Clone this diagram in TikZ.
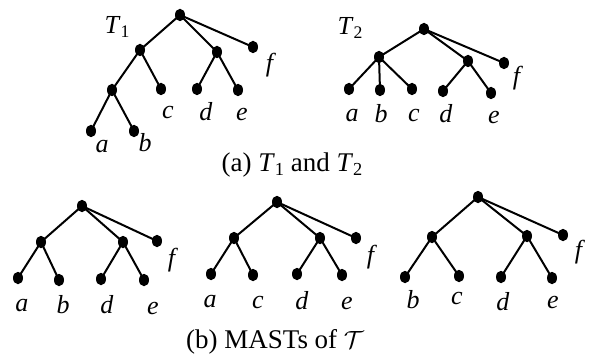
\documentclass[tikz,border=0pt]{standalone}
\usepackage{fontspec}
\usepackage{graphicx}
\setmainfont{Liberation Serif}
\usetikzlibrary{shapes.geometric}
\newcommand{\lf}[1]{\textit{#1}}
\newcommand{\tsub}[2]{\textit{#1}\raisebox{-0.3ex}{\scalebox{0.68}{#2}}}
\tikzset{
  dot/.style={ellipse,fill=black,inner sep=0pt,minimum width=10pt,minimum height=12.5pt},
  lbl/.style={inner sep=0pt,font=\fontsize{26}{28}\selectfont},
  captxt/.style={inner sep=0pt,font=\fontsize{27}{29}\selectfont},
  edge/.style={line width=2pt}
}
\begin{document}
\begin{tikzpicture}[x=1pt,y=-1pt]
\useasboundingbox (0,0) rectangle (591,358);
% ---------- T1 ----------
\node[dot] (A) at (180,15) {};
\node[dot] (Al) at (140,50) {};
\node[dot] (Ar) at (217,52) {};
\node[dot] (Af) at (253,47) {};
\node[dot] (All) at (112,90) {};
\node[dot] (Ac) at (161,89) {};
\node[dot] (Ad) at (197,89) {};
\node[dot] (Ae) at (238,90) {};
\node[dot] (Aa) at (91,131) {};
\node[dot] (Ab) at (134,131) {};
\foreach \u/\v in {A/Al,A/Ar,A/Af,Al/All,Al/Ac,Ar/Ad,Ar/Ae,All/Aa,All/Ab}
  \draw[edge] (\u.center) -- (\v.center);
\node[lbl] (AT) at (117,27) {\tsub{T}{1}};
\node[lbl] (Alf) at (271,65) {\lf{f}};
\node[lbl] (Alc) at (168,113) {\lf{c}};
\node[lbl] (Ald) at (206,112) {\lf{d}};
\node[lbl] (Ale) at (242,115) {\lf{e}};
\node[lbl] (Ala) at (102,147) {\lf{a}};
\node[lbl] (Alb) at (145,143) {\lf{b}};
% ---------- T2 ----------
\node[dot] (B) at (424,29) {};
\node[dot] (Bl) at (379,57) {};
\node[dot] (Br) at (468,61) {};
\node[dot] (Bf) at (504,63) {};
\node[dot] (Ba) at (349,89) {};
\node[dot] (Bb) at (380,90) {};
\node[dot] (Bc) at (412,89) {};
\node[dot] (Bd) at (443,91) {};
\node[dot] (Be) at (491,93) {};
\foreach \u/\v in {B/Bl,B/Br,B/Bf,Bl/Ba,Bl/Bb,Bl/Bc,Br/Bd,Br/Be}
  \draw[edge] (\u.center) -- (\v.center);
\node[lbl] (BT) at (350,28) {\tsub{T}{2}};
\node[lbl] (Blf) at (518,78) {\lf{f}};
\node[lbl] (Bla) at (352,116) {\lf{a}};
\node[lbl] (Blb) at (381,114) {\lf{b}};
\node[lbl] (Blc) at (414,116) {\lf{c}};
\node[lbl] (Bld) at (446,114) {\lf{d}};
\node[lbl] (Ble) at (494,118) {\lf{e}};
\node[captxt] (capA) at (292,165) {(a) \tsub{T}{1} and \tsub{T}{2}};
% ---------- M1 ----------
\node[dot] (C) at (82,206) {};
\node[dot] (Cl) at (41,242) {};
\node[dot] (Cr) at (123,242) {};
\node[dot] (Cf) at (157,241) {};
\node[dot] (Ca) at (18,278) {};
\node[dot] (Cb) at (59,280) {};
\node[dot] (Cd) at (101,279) {};
\node[dot] (Ce) at (144,280) {};
\foreach \u/\v in {C/Cl,C/Cr,C/Cf,Cl/Ca,Cl/Cb,Cr/Cd,Cr/Ce}
  \draw[edge] (\u.center) -- (\v.center);
\node[lbl] (Clf) at (173,260) {\lf{f}};
\node[lbl] (Cla) at (22,306) {\lf{a}};
\node[lbl] (Clb) at (63,305) {\lf{b}};
\node[lbl] (Cld) at (107,305) {\lf{d}};
\node[lbl] (Cle) at (153,308) {\lf{e}};
% ---------- M2 ----------
\node[dot] (D) at (277,202) {};
\node[dot] (Dl) at (234,238) {};
\node[dot] (Dr) at (320,238) {};
\node[dot] (Df) at (356,238) {};
\node[dot] (Da) at (211,274) {};
\node[dot] (Dc) at (253,275) {};
\node[dot] (Dd) at (297,274) {};
\node[dot] (De) at (342,275) {};
\foreach \u/\v in {D/Dl,D/Dr,D/Df,Dl/Da,Dl/Dc,Dr/Dd,Dr/De}
  \draw[edge] (\u.center) -- (\v.center);
\node[lbl] (Dlf) at (372,257) {\lf{f}};
\node[lbl] (Dla) at (210,302) {\lf{a}};
\node[lbl] (Dlc) at (258,302) {\lf{c}};
\node[lbl] (Dld) at (302,301) {\lf{d}};
\node[lbl] (Dle) at (347,303) {\lf{e}};
% ---------- M3 ----------
\node[dot] (E) at (478,197) {};
\node[dot] (El) at (432,237) {};
\node[dot] (Er) at (527,236) {};
\node[dot] (Ef) at (563,235) {};
\node[dot] (Eb) at (405,277) {};
\node[dot] (Ec) at (459,276) {};
\node[dot] (Ed) at (501,277) {};
\node[dot] (Ee) at (552,278) {};
\foreach \u/\v in {E/El,E/Er,E/Ef,El/Eb,El/Ec,Er/Ed,Er/Ee}
  \draw[edge] (\u.center) -- (\v.center);
\node[lbl] (Elf) at (580,252) {\lf{f}};
\node[lbl] (Elb) at (413,300) {\lf{b}};
\node[lbl] (Elc) at (457,298) {\lf{c}};
\node[lbl] (Eld) at (503,302) {\lf{d}};
\node[lbl] (Ele) at (553,302) {\lf{e}};
\node[captxt] (capB) at (275,342) {(b) MASTs of $\mathcal{T}$};
\end{tikzpicture}
\end{document}
